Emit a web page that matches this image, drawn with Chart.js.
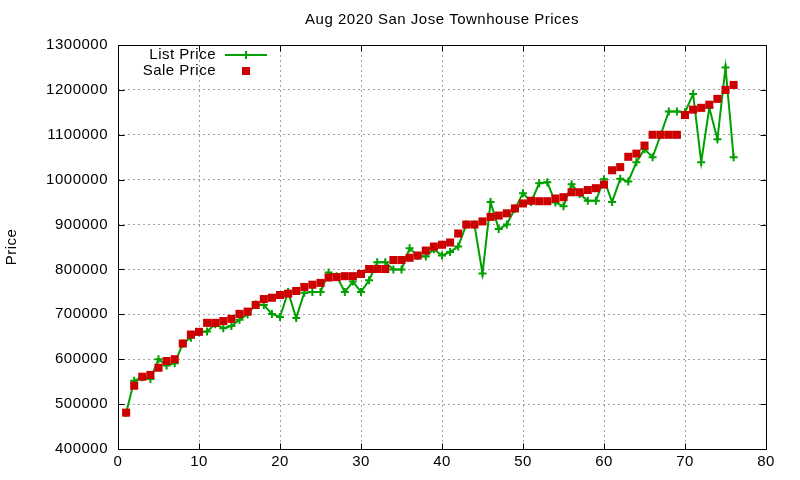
<!DOCTYPE html>
<html>
<head>
<meta charset="utf-8">
<script src="https://cdn.jsdelivr.net/npm/chart.js@4/dist/chart.umd.min.js"></script>
<style>
  html, body { margin: 0; padding: 0; background: #fff; }
  #wrap { width: 800px; height: 480px; }
</style>
</head>
<body>
<div id="wrap"><canvas id="priceChart" width="800" height="480"></canvas></div>
<script>
// house number (x axis)
const houseNo = [
  1, 2, 3, 4, 5, 6, 7, 8, 9, 10, 11, 12, 13, 14, 15, 16, 17, 18, 19, 20,
  21, 22, 23, 24, 25, 26, 27, 28, 29, 30, 31, 32, 33, 34, 35, 36, 37, 38, 39, 40,
  41, 42, 43, 44, 45, 46, 47, 48, 49, 50, 51, 52, 53, 54, 55, 56, 57, 58, 59, 60,
  61, 62, 63, 64, 65, 66, 67, 68, 69, 70, 71, 72, 73, 74, 75, 76
];

// asking prices
const listPrice = [
  480000, 552000, 560000, 556000, 600000, 586000, 591000, 635000, 648000, 660000,
  662000, 678000, 669000, 674000, 688000, 700000, 722000, 721000, 701000, 694000,
  750000, 692000, 748000, 750000, 750000, 793000, 785000, 750000, 773000, 750000,
  776000, 816000, 816000, 800000, 800000, 847000, 830000, 829000, 845000, 831000,
  839000, 851000, 900000, 900000, 791000, 950000, 890000, 900000, 935000, 970000,
  950000, 992000, 994000, 949000, 941000, 990000, 968000, 953000, 953000, 1001000,
  950000, 1002000, 996000, 1039000, 1068000, 1050000, 1100000, 1152000, 1152000, 1150000,
  1191000, 1039000, 1160000, 1090000, 1250000, 1050000
];

// final sale prices
const salePrice = [
  481000, 541000, 561000, 565000, 581000, 596000, 600000, 635000, 655000, 661000,
  681000, 681000, 685000, 690000, 701000, 706000, 721000, 734000, 737000, 743000,
  746000, 752000, 761000, 766000, 770000, 782000, 783000, 785000, 785000, 790000,
  801000, 801000, 801000, 821000, 821000, 826000, 831000, 842000, 851000, 855000,
  860000, 880000, 900000, 900000, 907000, 917000, 920000, 925000, 936000, 947000,
  953000, 952000, 952000, 958000, 961000, 972000, 972000, 977000, 981000, 989000,
  1021000, 1028000, 1051000, 1058000, 1076000, 1100000, 1100000, 1100000, 1100000, 1144000,
  1156000, 1160000, 1167000, 1180000, 1200000, 1211000
];

const xMin = 0, xMax = 80, xStep = 10;
const yMin = 400000, yMax = 1300000, yStep = 100000;

const GREEN = "#00a000";
const RED = "#cc0000";
const FONT = "Liberation Sans";
const FSIZE = 15;
const SPACING = "0.5px";

Chart.defaults.font.family = FONT;
Chart.defaults.font.size = FSIZE;
Chart.defaults.color = "#000";

//gnuplot style text is a bit wider, give it some letter spacing
const spacingPlugin = {
  id: "spacing",
  beforeUpdate(chart) { chart.ctx.letterSpacing = SPACING; },
  beforeDraw(chart) { chart.ctx.letterSpacing = SPACING; }
};

//border box plus inward tick marks on all four sides
const framePlugin = {
  id: "frame",
  beforeDatasetsDraw(chart) {
    const { ctx, chartArea: a, scales } = chart;
    const L = Math.round(a.left) + 0.5, R = Math.round(a.right) + 0.5;
    const T = Math.round(a.top) + 0.5, B = Math.round(a.bottom) + 0.5;
    const len = 6;
    ctx.save();
    ctx.strokeStyle = "#000";
    ctx.lineWidth = 1;
    ctx.setLineDash([]);
    ctx.beginPath();
    scales.x.ticks.forEach((t) => {
      const px = Math.round(scales.x.getPixelForValue(t.value)) + 0.5;
      ctx.moveTo(px, B); ctx.lineTo(px, B - len);
      ctx.moveTo(px, T); ctx.lineTo(px, T + len);
    });
    scales.y.ticks.forEach((t) => {
      const py = Math.round(scales.y.getPixelForValue(t.value)) + 0.5;
      ctx.moveTo(L, py); ctx.lineTo(L + len, py);
      ctx.moveTo(R, py); ctx.lineTo(R - len, py);
    });
    ctx.stroke();
    ctx.strokeRect(L, T, R - L, B - T);
    ctx.restore();
  }
};

//gnuplot like key: text right aligned, sample on the right
const keyPlugin = {
  id: "key",
  afterDraw(chart) {
    const { ctx, chartArea: a } = chart;
    const textRight = a.left + 98;
    const sampleL = a.left + 107, sampleR = a.left + 149;
    const mid = (sampleL + sampleR) / 2;
    ctx.save();
    ctx.font = FSIZE + "px '" + FONT + "'";
    ctx.letterSpacing = SPACING;
    ctx.fillStyle = "#000";
    ctx.textAlign = "right";
    ctx.textBaseline = "middle";
    chart.data.datasets.forEach((ds, i) => {
      const y = a.top + 10 + i * 16;
      ctx.fillText(ds.label, textRight, y);
      if (ds.showLine) {
        ctx.strokeStyle = ds.borderColor;
        ctx.lineWidth = 2;
        ctx.beginPath();
        ctx.moveTo(sampleL, y); ctx.lineTo(sampleR, y);
        ctx.moveTo(mid - 4, y); ctx.lineTo(mid + 4, y);
        ctx.moveTo(mid, y - 4); ctx.lineTo(mid, y + 4);
        ctx.stroke();
      } else {
        ctx.fillStyle = ds.backgroundColor;
        ctx.fillRect(mid - 4, y - 4, 8, 8);
        ctx.fillStyle = "#000";
      }
    });
    ctx.restore();
  }
};

const listPoints = houseNo.map((n, i) => ({ x: n, y: listPrice[i] }));
const salePoints = houseNo.map((n, i) => ({ x: n, y: salePrice[i] }));

const edgeGrid = (c) => (c.index === 0 || c.index === c.chart.scales[c.scale.id].ticks.length - 1) ? "rgba(0,0,0,0)" : "#a0a0a0";

new Chart(document.getElementById("priceChart"), {
  type: "scatter",
  data: {
    datasets: [
      {
        label: "List Price",
        data: listPoints,
        showLine: true,
        borderColor: GREEN,
        backgroundColor: GREEN,
        borderWidth: 2,
        tension: 0,
        pointStyle: "cross",
        pointRadius: 4,
        pointBorderWidth: 2,
        pointBorderColor: GREEN,
        order: 1
      },
      {
        label: "Sale Price",
        data: salePoints,
        showLine: false,
        borderColor: RED,
        backgroundColor: RED,
        pointStyle: "rect",
        pointRadius: 5.7,
        pointBorderWidth: 0,
        order: 0
      }
    ]
  },
  options: {
    responsive: false,
    animation: false,
    devicePixelRatio: 1,
    layout: { padding: { top: 0, right: 34, bottom: 0, left: 0 } },
    plugins: {
      legend: { display: false },
      tooltip: { enabled: false },
      title: {
        display: true,
        text: "Aug 2020 San Jose Townhouse Prices",
        fullSize: false,
        color: "#000",
        font: { size: FSIZE, weight: "normal" },
        padding: { top: 11, bottom: 16 }
      }
    },
    scales: {
      x: {
        type: "linear",
        min: xMin,
        max: xMax,
        ticks: { stepSize: xStep, padding: 4, color: "#000", font: { size: FSIZE } },
        grid: { color: edgeGrid, drawTicks: false, lineWidth: 1 },
        border: { display: false, dash: [2, 3] },
        afterFit(scale) { scale.height = 31; }
      },
      y: {
        type: "linear",
        min: yMin,
        max: yMax,
        ticks: {
          stepSize: yStep,
          padding: 10,
          color: "#000",
          font: { size: FSIZE },
          callback: (v) => String(v)
        },
        grid: { color: edgeGrid, drawTicks: false, lineWidth: 1 },
        border: { display: false, dash: [2, 3] },
        title: { display: true, text: "Price", color: "#000", font: { size: FSIZE }, padding: { top: 3, bottom: 3 } },
        afterFit(scale) { scale.width = 118; }
      }
    }
  },
  plugins: [spacingPlugin, framePlugin, keyPlugin]
});
</script>
</body>
</html>
